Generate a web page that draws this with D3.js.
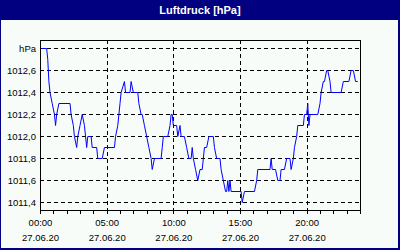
<!DOCTYPE html>
<html><head><meta charset="utf-8">
<script src="https://cdn.jsdelivr.net/npm/d3@7"></script>
<style>html,body{margin:0;padding:0;background:#000080;}svg{display:block;}</style>
</head><body>
<svg id="c" width="400" height="250"></svg>
<script>
const title = "Luftdruck [hPa]";
const times = ["00:00","00:30","00:35","00:40","00:45","00:55","01:05","01:10","01:15","01:25",
"02:15","02:20","02:30","02:35","02:45","02:50","03:00","03:10","03:20","03:25","03:30","03:35",
"03:50","03:55","04:15","04:20","04:40","04:50","05:35","05:40","05:50","06:00","06:05","06:20",
"06:25","06:45","06:50","07:00","07:20","07:25","07:35","07:40","07:50","08:00","08:10","08:20",
"08:25","08:35","09:05","09:10","09:15","09:35","09:45","09:50","09:55","10:00","10:15","10:20",
"10:30","10:35","10:50","11:00","11:10","11:20","11:25","11:30","11:40","11:50","12:00","12:10",
"12:15","12:20","12:30","12:40","13:00","13:05","13:15","13:30","13:35","13:45","13:55","14:00",
"14:05","14:10","14:15","14:20","15:05","15:10","15:20","16:05","16:15","16:20","17:15","17:20",
"17:25","17:40","17:50","18:00","18:05","18:20","18:30","18:45","18:50","19:00","19:05","19:15",
"19:20","19:45","19:50","20:00","20:05","20:10","20:15","20:50","21:00","21:05","21:15","21:20",
"21:30","21:35","21:45","21:50","22:35","22:45","23:10","23:20","23:30","23:40","23:50"];
const pressure = [1012.8,1012.8,1012.7,1012.5,1012.4,1012.3,1012.2,1012.1,1012.2,1012.3,
1012.3,1012.2,1012.1,1012.0,1011.9,1012.0,1012.1,1012.2,1012.1,1012.0,1011.9,1012.0,
1012.0,1011.9,1011.9,1011.8,1011.8,1011.9,1011.9,1012.0,1012.1,1012.3,1012.4,1012.5,
1012.4,1012.4,1012.5,1012.4,1012.4,1012.3,1012.2,1012.2,1012.1,1012.0,1011.9,1011.8,
1011.7,1011.8,1011.8,1011.9,1012.0,1012.0,1012.1,1012.2,1012.2,1012.1,1012.1,1012.0,
1012.1,1012.0,1012.0,1011.9,1011.8,1011.8,1011.9,1011.8,1011.7,1011.6,1011.7,1011.7,
1011.8,1011.9,1011.9,1012.0,1012.0,1011.9,1011.8,1011.8,1011.7,1011.6,1011.5,1011.5,
1011.6,1011.5,1011.6,1011.5,1011.5,1011.4,1011.5,1011.5,1011.6,1011.7,1011.7,1011.8,
1011.7,1011.7,1011.6,1011.6,1011.7,1011.7,1011.8,1011.8,1011.7,1011.8,1011.9,1012.0,
1012.1,1012.1,1012.2,1012.2,1012.3,1012.1,1012.2,1012.2,1012.3,1012.4,1012.5,1012.5,
1012.6,1012.6,1012.5,1012.4,1012.4,1012.5,1012.5,1012.6,1012.6,1012.5,1012.5];
const yTicks = [1011.4,1011.6,1011.8,1012.0,1012.2,1012.4,1012.6,1012.8];
const yTickLabels = ["1011,4","1011,6","1011,8","1012,0","1012,2","1012,4","1012,6","hPa"];
const xTicks = ["00:00","05:00","10:00","15:00","20:00"];
const dateLabel = "27.06.20";

(function(){
const toMin = s => { const [h,m] = s.split(":").map(Number); return h*60+m; };
const data = times.map((t,i)=>({t:toMin(t), v:pressure[i]}));

const svg = d3.select("#c");
const W=400,H=250;
const pL=40,pR=360,pT=40,pB=210;
svg.append("rect").attr("x",0).attr("y",0).attr("width",W).attr("height",H).attr("fill","#000080");
svg.append("rect").attr("x",1).attr("y",20).attr("width",397).attr("height",228).attr("fill","#f8fcf8");
svg.append("text").attr("x",200).attr("y",14).attr("text-anchor","middle")
  .attr("font-family","Liberation Sans, Arial, sans-serif").attr("font-weight","bold")
  .attr("font-size","11px").attr("fill","#ffffff").text(title);

const x = d3.scaleLinear().domain([0,1440]).range([pL,pR]);
const y = d3.scaleLinear().domain([1011.4,1012.8]).range([202,48]);

const font = "Liberation Sans, Arial, sans-serif";
svg.append("g").selectAll("line").data(yTicks).join("line")
  .attr("x1",pL).attr("x2",pR)
  .attr("y1",d=>Math.round(y(d))+0.5).attr("y2",d=>Math.round(y(d))+0.5)
  .attr("stroke","#000").attr("stroke-dasharray","4,3").attr("shape-rendering","crispEdges");
svg.append("g").selectAll("line").data(xTicks.slice(1)).join("line")
  .attr("x1",d=>Math.round(x(toMin(d)))+0.5).attr("x2",d=>Math.round(x(toMin(d)))+0.5)
  .attr("y1",pT).attr("y2",pB)
  .attr("stroke","#000").attr("stroke-dasharray","4,3").attr("shape-rendering","crispEdges");

svg.append("g").selectAll("text").data(yTicks).join("text")
  .attr("x",36).attr("y",d=>Math.round(y(d))+0.5).attr("dy","0.35em")
  .attr("text-anchor","end").attr("font-family",font).attr("font-size","9.5px").attr("fill","#000")
  .text((d,i)=>yTickLabels[i]);

const xAxis = d3.axisBottom(x).tickValues(d3.range(0,1441,60)).tickSize(3).tickFormat("");
const ax = svg.append("g").attr("transform",`translate(0,${pB+0.5})`).call(xAxis);
ax.select(".domain").remove();
ax.selectAll("line").attr("stroke","#000").attr("shape-rendering","crispEdges");

const xl = svg.append("g").selectAll("g").data(xTicks).join("g")
  .attr("transform",d=>`translate(${x(toMin(d))+0.5},0)`);
xl.append("text").attr("y",226).attr("text-anchor","middle").attr("font-family",font)
  .attr("font-size","9.5px").attr("fill","#000").text(d=>d);
xl.append("text").attr("y",241).attr("text-anchor","middle").attr("font-family",font)
  .attr("font-size","9.5px").attr("fill","#000").text(dateLabel);

const line = d3.line().x(d=>x(d.t)).y(d=>y(d.v)+0.5);
svg.append("path").datum(data).attr("d",line).attr("fill","none")
  .attr("stroke","#0000ff").attr("stroke-width",1);

svg.append("rect").attr("x",pL+0.5).attr("y",pT+0.5).attr("width",pR-pL).attr("height",pB-pT)
  .attr("fill","none").attr("stroke","#000").attr("shape-rendering","crispEdges");
})();
</script>
</body></html>
